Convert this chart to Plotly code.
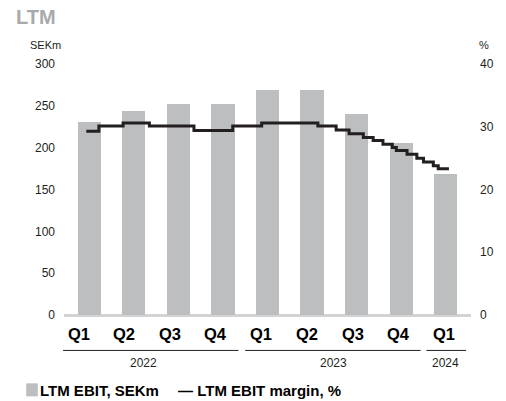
import plotly.graph_objects as go

quarters = ["Q1", "Q2", "Q3", "Q4", "Q1", "Q2", "Q3", "Q4", "Q1"]
years = ["2022", "2023", "2024"]
ebit = [231, 244, 252, 252, 269, 269, 240, 206, 168]
# LTM EBIT margin (%), step line; x in quarter-index units
margin_x = [-0.065, 0.217, 0.76, 1.35, 2.35, 3.22, 3.87, 5.13, 5.54, 5.83, 6.15,
            6.37, 6.59, 6.80, 6.89, 7.13, 7.35, 7.50, 7.72, 7.83, 8.07]
margin_val = [29.3, 30.1, 30.6, 30.1, 29.4, 30.1, 30.6, 30.1, 29.5, 28.9, 28.3,
              27.8, 27.2, 26.7, 26.2, 25.6, 25.0, 24.4, 23.8, 23.3, 23.3]
left_ticks = [0, 50, 100, 150, 200, 250, 300]
right_ticks = [0, 10, 20, 30, 40]

FONT = "Liberation Sans"
DARK = "#231f20"
BAR = "#bcbec0"

fig = go.Figure()
fig.add_trace(go.Bar(x=list(range(len(ebit))), y=ebit, width=0.52,
                     marker=dict(color=BAR, line=dict(width=0)),
                     name="LTM EBIT, SEKm", showlegend=False, yaxis="y"))
fig.add_trace(go.Scatter(x=margin_x, y=margin_val, mode="lines",
                         line=dict(color=DARK, width=3, shape="hv"),
                         name="LTM EBIT margin, %", showlegend=False, yaxis="y2"))

L, R, T, B = 64, 22, 64, 85.5
W, H = 506, 401
pw = W - L - R
xr = [-0.565, 8.565]

def xpaper(px):
    return (px - L) / pw

def ypaper(py):
    return 1 - (py - T) / (H - T - B)

fig.update_layout(
    width=W, height=H,
    margin=dict(l=L, r=R, t=T, b=B, pad=0),
    paper_bgcolor="white", plot_bgcolor="white",
    font=dict(family=FONT, color=DARK, size=12),
    bargap=0,
    xaxis=dict(range=xr, showticklabels=False, showgrid=False, zeroline=False,
               showline=False, ticks="", fixedrange=True),
    yaxis=dict(range=[0, 300], tickvals=left_ticks, showgrid=False,
               zeroline=True, zerolinecolor="#d1d3d4", zerolinewidth=2.5,
               showline=False, ticks="", ticklabelstandoff=8,
               tickfont=dict(size=12, color=DARK)),
    yaxis2=dict(range=[0, 40], tickvals=right_ticks, overlaying="y", side="right",
                showgrid=False, zeroline=False, showline=False, ticks="",
                ticklabelstandoff=8, tickfont=dict(size=12, color=DARK)),
)

ann = []
ann.append(dict(text="<b>LTM</b>", x=12, y=17, showarrow=False, xanchor="left", yanchor="middle",
                font=dict(size=20, color="#a7a9ac", family=FONT)))
ann.append(dict(text="SEKm", x=45, y=45, showarrow=False, xanchor="center", yanchor="middle",
                font=dict(size=11, color=DARK, family=FONT)))
ann.append(dict(text="%", x=505, y=45, showarrow=False, xanchor="right", yanchor="middle",
                font=dict(size=11, color=DARK, family=FONT)))
for i, q in enumerate(quarters):
    ann.append(dict(text="<b>%s</b>" % q, x=79 + 47.125 * i, y=335, showarrow=False,
                    xanchor="center", yanchor="middle",
                    font=dict(size=16.5, color="black", family=FONT)))
year_centers = [146.5, 342, 458]
for yl, cx in zip(years, year_centers):
    ann.append(dict(text=yl, x=cx, y=364, showarrow=False, xanchor="center", yanchor="middle",
                    font=dict(size=12, color=DARK, family=FONT)))
ann.append(dict(text="<b>LTM EBIT, SEKm</b>", x=37, y=391, showarrow=False,
                xanchor="left", yanchor="middle", font=dict(size=15, color="black", family=FONT)))
ann.append(dict(text="<b>— LTM EBIT margin, %</b>", x=180, y=391, showarrow=False,
                xanchor="left", yanchor="middle", font=dict(size=15, color="black", family=FONT)))

for a in ann:
    a["x"] = xpaper(a["x"])
    a["y"] = ypaper(a["y"])
    a["xref"] = "paper"
    a["yref"] = "paper"
fig.update_layout(annotations=ann)

shapes = []
year_lines = [(63, 244), (251, 432), (438, 479)]
for x0, x1 in year_lines:
    shapes.append(dict(type="line", xref="paper", yref="paper",
                       x0=xpaper(x0), x1=xpaper(x1), y0=ypaper(351), y1=ypaper(351),
                       line=dict(color=DARK, width=1)))
shapes.append(dict(type="rect", xref="paper", yref="paper",
                   x0=xpaper(25), x1=xpaper(37), y0=ypaper(397), y1=ypaper(384),
                   fillcolor=BAR, line=dict(width=0)))
fig.update_layout(shapes=shapes)

fig.write_html("out.html", config={"displayModeBar": False},
               post_script="document.body.style.margin='0';document.body.style.overflow='hidden';")
